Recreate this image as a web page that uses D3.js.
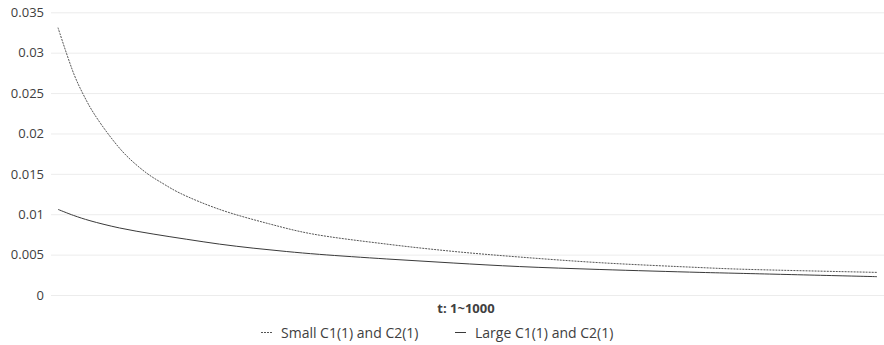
<!DOCTYPE html>
<html>
<head>
<meta charset="utf-8">
<script src="https://cdn.jsdelivr.net/npm/d3@7"></script>
<style>
  body { margin: 0; background: #fff; }
  text { font-family: "Open Sans", "Liberation Sans", sans-serif; fill: #404040; }
</style>
</head>
<body>
<script>
// values
var yTicks = [0, 0.005, 0.01, 0.015, 0.02, 0.025, 0.03, 0.035];
var smallT = [1, 21, 34, 44, 64, 84, 109, 129, 150, 198, 259, 309, 402, 483, 564, 662, 784, 833, 1000];
var smallV = [0.0331, 0.0272, 0.0244, 0.0226, 0.0197, 0.0173, 0.0151, 0.0138, 0.0126, 0.0106, 0.0088, 0.0076, 0.0063, 0.0054, 0.0047, 0.0040, 0.0034, 0.0032, 0.0028];
var largeT = [1, 20, 40, 76, 117, 158, 198, 239, 280, 320, 402, 483, 564, 662, 784, 833, 1000];
var largeV = [0.0106, 0.00985, 0.0092, 0.0083, 0.00755, 0.0069, 0.0063, 0.0058, 0.00538, 0.00503, 0.00446, 0.00396, 0.00352, 0.00316, 0.0028, 0.00268, 0.00227];
var seriesNames = ["Small C1(1) and C2(1)", "Large C1(1) and C2(1)"];
var xTitle = "t: 1~1000";

var width = 884, height = 345;
var margin = {top: 12, right: 0, bottom: 50, left: 51};

var svg = d3.select("body").append("svg")
    .attr("width", width)
    .attr("height", height);

var x = d3.scaleLinear().domain([1, 1000]).range([58, 877]);
var y = d3.scaleLinear().domain([0, 0.035]).range([295, 12.3]);

// gridlines
svg.append("g")
    .attr("transform", "translate(" + margin.left + ",0)")
    .call(d3.axisLeft(y).tickValues(yTicks).tickSize(-(width - margin.left)).tickFormat(""))
    .call(g => g.select(".domain").remove())
    .call(g => g.selectAll("line").attr("stroke", "#ececec").attr("stroke-width", 1));

// y labels
svg.append("g")
    .attr("transform", "translate(44,0)")
    .call(d3.axisLeft(y).tickValues(yTicks).tickSize(0).tickPadding(0).tickFormat(d => d === 0 ? "0" : String(+d.toFixed(3))))
    .call(g => g.select(".domain").remove())
    .call(g => g.selectAll("text").style("font-size", "13px").attr("fill", "#404040"));

var line = d3.line()
    .x(d => x(d[0]))
    .y(d => y(d[1]))
    .curve(d3.curveCatmullRom.alpha(0.5));

svg.append("path")
    .datum(smallT.map((t, i) => [t, smallV[i]]))
    .attr("fill", "none")
    .attr("stroke", "#555")
    .attr("stroke-width", 1)
    .attr("stroke-dasharray", "2,1")
    .attr("d", line);

svg.append("path")
    .datum(largeT.map((t, i) => [t, largeV[i]]))
    .attr("fill", "none")
    .attr("stroke", "#3a3a3a")
    .attr("stroke-width", 1)
    .attr("d", line);

// axis title
svg.append("text")
    .attr("x", 466)
    .attr("y", 313)
    .attr("text-anchor", "middle")
    .style("font-size", "13px")
    .style("font-weight", "bold")
    .attr("fill", "#404040")
    .text(xTitle);

// legend
var legend = svg.append("g");
var legX = [261, 455];
seriesNames.forEach(function(name, i) {
  legend.append("line")
      .attr("x1", legX[i]).attr("x2", legX[i] + 11)
      .attr("y1", 332.5).attr("y2", 332.5)
      .attr("stroke", i === 0 ? "#555" : "#3a3a3a")
      .attr("stroke-width", 1)
      .attr("stroke-dasharray", i === 0 ? "2,1" : null);
  legend.append("text")
      .attr("x", legX[i] + 20)
      .attr("y", 338)
      .style("font-size", "14px")
      .attr("fill", "#404040")
      .text(name);
});
</script>
</body>
</html>
